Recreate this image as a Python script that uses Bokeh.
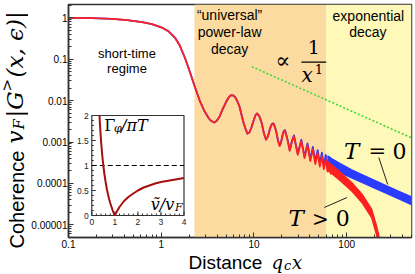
import math
from bokeh.plotting import figure
from bokeh.models import (Range1d, LinearScale, FixedTicker, CustomJSTickFormatter,
                          BoxAnnotation, Label)
from bokeh.layouts import row, column
from bokeh.core.properties import value
from bokeh.embed import file_html
from bokeh.resources import INLINE

# ---------------- data ----------------
# early, shared part of the coherence curve (both temperatures coincide)
x_early = [0.1, 0.181, 0.296, 0.429, 0.621, 0.795, 1.017, 1.209, 1.403, 1.586,
           1.795, 2.03, 2.297, 2.60, 2.94, 3.245, 3.41, 3.72, 3.95, 4.26,
           4.58, 4.94, 5.25, 5.45, 5.72, 6.02, 6.32, 6.64, 6.98, 7.24,
           7.51, 7.79, 8.09, 8.5, 8.93, 9.38, 9.85, 10.35, 10.8]
g_early = [1.0, 0.983, 0.946, 0.885, 0.792, 0.708, 0.583, 0.467, 0.334, 0.214,
           0.110, 0.0505, 0.0219, 0.01005, 0.00545, 0.0038, 0.0033, 0.00296, 0.00321, 0.00413,
           0.0061, 0.00875, 0.01125, 0.01256, 0.01365, 0.01327, 0.0119, 0.0095, 0.0072, 0.00516,
           0.0037, 0.00272, 0.00212, 0.0016, 0.0017, 0.00224, 0.00313, 0.00437, 0.00491]

# resolved oscillations
x_osc = [11.45, 12.15, 12.8, 13.5, 14.2, 14.85, 15.5, 16.2, 16.9, 17.55,
         18.2, 18.9, 19.6, 20.25, 20.9, 21.6, 22.95, 24.3, 25.65, 27.0,
         29.7, 32.4, 35.1, 37.8, 40.5, 43.2, 45.9, 48.6, 51.3, 54.0,
         56.7, 59.4, 62.1, 64.8, 67.5, 70.2]
g_osc_T0 = [4.16e-3, 2.82e-3, 1.64e-3, 1.148e-3, 1.41e-3, 2.07e-3, 2.68e-3, 2.84e-3, 2.26e-3, 1.64e-3,
            1.065e-3, 8.20e-4, 9.9e-4, 1.42e-3, 1.82e-3, 1.944e-3, 1.187e-3, 6.38e-4, 1.062e-3, 1.444e-3,
            5.22e-4, 1.142e-3, 4.42e-4, 9.26e-4, 3.83e-4, 7.64e-4, 3.38e-4, 6.38e-4, 3.02e-4, 5.56e-4,
            2.73e-4, 4.88e-4, 2.50e-4, 4.32e-4, 2.30e-4, 3.85e-4]
g_osc_Tpos = [4.12e-3, 2.79e-3, 1.62e-3, 1.131e-3, 1.39e-3, 2.03e-3, 2.63e-3, 2.78e-3, 2.21e-3, 1.60e-3,
              1.04e-3, 8.0e-4, 9.65e-4, 1.377e-3, 1.765e-3, 1.886e-3, 1.145e-3, 6.12e-4, 1.014e-3, 1.379e-3,
              4.93e-4, 1.068e-3, 4.09e-4, 8.43e-4, 3.45e-4, 6.76e-4, 2.94e-4, 5.45e-4, 2.54e-4, 4.56e-4,
              2.21e-4, 3.86e-4, 1.94e-4, 3.28e-4, 1.71e-4, 2.81e-4]

# unresolved (dense) oscillations: envelopes
x_band_T0 = [62, 70, 85, 113, 150, 200, 258, 350, 500]
g_band_T0_hi = [4.6e-4, 3.86e-4, 3.0e-4, 2.12e-4, 1.57e-4, 1.175e-4, 9.1e-5, 6.7e-5, 4.7e-5]
g_band_T0_lo = [2.5e-4, 2.21e-4, 1.82e-4, 1.37e-4, 1.03e-4, 7.75e-5, 6.0e-5, 4.43e-5, 3.1e-5]
x_band_Tpos = [62, 70, 88, 113, 146, 186, 210, 240]
g_band_Tpos_hi = [3.31e-4, 2.68e-4, 1.74e-4, 1.05e-4, 5.5e-5, 2.36e-5, 9.2e-6, 2.5e-6]
g_band_Tpos_lo = [2.09e-4, 1.69e-4, 1.10e-4, 6.6e-5, 3.47e-5, 1.49e-5, 5.8e-6, 1.6e-6]

# 1/x guide
x_guide = [9.5, 500]
g_guide = [0.066, 0.00126]

# regime boundaries
regime_edges = [2.28, 60.0]

# axis ticks
x_ticks = [0.1, 1, 10, 100]
x_tick_labels = ["0.1", "1", "10", "100"]
y_ticks = [1e-5, 1e-4, 1e-3, 1e-2, 1e-1, 1]
y_tick_labels = ["0.00001", "0.0001", "0.001", "0.01", "0.1", "1"]

# inset: dephasing rate vs velocity ratio
v_ratio = [0.333, 0.36, 0.4, 0.45, 0.5, 0.55, 0.6, 0.65, 0.7, 0.75, 0.8, 0.85, 0.9, 0.95, 1.0,
           1.05, 1.1, 1.2, 1.3, 1.4, 1.6, 1.8, 2.0, 2.25, 2.5, 2.75, 3.0, 3.5, 4.0]
gamma_ratio = [2.0, 1.78, 1.5, 1.22, 1.0, 0.82, 0.67, 0.54, 0.43, 0.33, 0.25, 0.18, 0.11, 0.05, 0.0,
               0.05, 0.09, 0.17, 0.23, 0.29, 0.375, 0.44, 0.5, 0.56, 0.6, 0.64, 0.67, 0.71, 0.75]
inset_x_ticks = [0, 1, 2, 3, 4]
inset_x_labels = ["0", "1", "2", "3", "4"]
inset_y_ticks = [0, 0.5, 1, 1.5, 2]
inset_y_labels = ["0", "0.5", "1", "1.5", "2"]
inset_xlim = [0, 4]
inset_ylim = [0, 2]
inset_ref_level = 1.0

# ---------------- layout constants (page pixels) ----------------
PW, PH = 415, 274                 # whole page
YT_W = 28                         # strip for the y-axis title
XT_H = 23                         # strip for the x-axis title
W, H = PW - YT_W, PH - XT_H       # main figure
ML, MR, MT, MB = 37, 4, 4, 14
X0, X1 = 0.1, 500.0
Y0, Y1 = 4.93e-6, 2.1
FL = YT_W + ML                    # frame left on the page
FT = MT                           # frame top on the page
FW = W - ML - MR
FH = H - MT - MB
DX = FW / math.log10(X1 / X0)
DY = FH / math.log10(Y1 / Y0)


def ax(px):
    return 10 ** (math.log10(X0) + (px - FL) / DX)


def ay(py):
    return 10 ** (math.log10(Y1) - (py - FT) / DY)


def no_align(fig):
    try:
        fig.frame_align = False
    except Exception:
        pass


def base_shift(size):
    # labels are drawn a little below their anchor; compensate (px, along the text's "down")
    return 0.15 * float(size.replace("px", "")) + 4.0


RED = "#FF2020"
BLUE = "#2A3CFF"
ORANGE = "#FCDBA0"
YELLOW = "#FEF9B8"
FRAME = "#333333"
SANS = "Liberation Sans"
SERIF = "DejaVu Serif"

p = figure(width=W, height=H, x_axis_type="log", y_axis_type="log",
           x_range=Range1d(X0, X1), y_range=Range1d(Y0, Y1),
           output_backend="svg", toolbar_location=None,
           min_border_left=ML, min_border_right=MR, min_border_top=MT, min_border_bottom=MB)
no_align(p)
p.grid.visible = False
p.background_fill_color = "white"
p.border_fill_color = "white"
p.outline_line_color = FRAME
p.outline_line_width = 1.5

# regimes
p.add_layout(BoxAnnotation(left=regime_edges[0], right=regime_edges[1], fill_color=ORANGE,
                           fill_alpha=1.0, line_color=None, level="underlay"))
p.add_layout(BoxAnnotation(left=regime_edges[1], fill_color=YELLOW,
                           fill_alpha=1.0, line_color=None, level="underlay"))

# axes
fmt_code = """
const lt = Math.log10(tick);
for (let i = 0; i < tvals.length; i++) {
  if (Math.abs(Math.log10(tvals[i]) - lt) < 1e-6) return tlabels[i];
}
return "";
"""
x_minor = [m * 10.0 ** e for e in range(-1, 3) for m in range(2, 10)]
y_minor = [m * 10.0 ** e for e in range(-6, 1) for m in range(2, 10)]
p.xaxis.ticker = FixedTicker(ticks=x_ticks, minor_ticks=x_minor)
p.yaxis.ticker = FixedTicker(ticks=y_ticks, minor_ticks=y_minor)
p.xaxis.formatter = CustomJSTickFormatter(args=dict(tvals=x_ticks, tlabels=x_tick_labels), code=fmt_code)
p.yaxis.formatter = CustomJSTickFormatter(args=dict(tvals=y_ticks, tlabels=y_tick_labels), code=fmt_code)
for a in (p.xaxis[0], p.yaxis[0]):
    a.major_tick_in = 5
    a.major_tick_out = 0
    a.minor_tick_in = 3
    a.minor_tick_out = 0
    a.axis_line_color = FRAME
    a.axis_line_width = 1.5
    a.major_tick_line_color = FRAME
    a.minor_tick_line_color = FRAME
    a.major_label_text_font = SANS
    a.major_label_text_font_size = "10px"
    a.major_label_text_color = "black"
p.xaxis.major_label_standoff = 2
p.yaxis.major_label_standoff = 1

# guide line
p.line(x_guide, g_guide, line_color="#3CD83C", line_width=1.6, line_dash="2 2")

# T = 0 (blue) first, T > 0 (red) on top
p.line(x_early + x_osc, g_early + g_osc_T0, line_color=BLUE, line_width=1.8, line_join="round")
p.varea(x=x_band_T0, y1=g_band_T0_lo, y2=g_band_T0_hi, fill_color=BLUE)
p.line(x_band_T0, g_band_T0_hi, line_color=BLUE, line_width=1.5)
p.line(x_band_T0, g_band_T0_lo, line_color=BLUE, line_width=1.5)

p.line(x_early + x_osc, g_early + g_osc_Tpos, line_color=RED, line_width=1.8, line_join="round")
p.varea(x=x_band_Tpos, y1=g_band_Tpos_lo, y2=g_band_Tpos_hi, fill_color=RED)
p.line(x_band_Tpos, g_band_Tpos_hi, line_color=RED, line_width=1.5)
p.line(x_band_Tpos, g_band_Tpos_lo, line_color=RED, line_width=1.5)

# ---------------- inset (own linear scales) ----------------
IL, IR, IT, IB = 88.5, 181.5, 115.0, 215.0   # inset box on the page
ux = (IR - IL) / (inset_xlim[1] - inset_xlim[0])
uy = (IB - IT) / (inset_ylim[1] - inset_ylim[0])
ix0 = inset_xlim[0] - (IL - FL) / ux
iy0 = inset_ylim[0] - ((FT + FH) - IB) / uy
p.extra_x_ranges = {"ix": Range1d(ix0, ix0 + FW / ux)}
p.extra_y_ranges = {"iy": Range1d(iy0, iy0 + FH / uy)}
p.extra_x_scales = {"ix": LinearScale()}
p.extra_y_scales = {"iy": LinearScale()}
kw = dict(x_range_name="ix", y_range_name="iy")

p.quad(left=[inset_xlim[0]], right=[inset_xlim[1]], bottom=[inset_ylim[0]], top=[inset_ylim[1]],
       fill_color="white", line_color=FRAME, line_width=1.2, **kw)
ix_minor = [i * 0.2 for i in range(1, 20)]
iy_minor = [i * 0.1 for i in range(1, 20)]
p.ray(x=inset_x_ticks, y=[inset_ylim[0]] * len(inset_x_ticks), length=4, length_units="screen",
      angle=math.pi / 2, line_color=FRAME, line_width=1, **kw)
p.ray(x=ix_minor, y=[inset_ylim[0]] * len(ix_minor), length=2, length_units="screen",
      angle=math.pi / 2, line_color=FRAME, line_width=1, **kw)
p.ray(x=[inset_xlim[0]] * len(inset_y_ticks), y=inset_y_ticks, length=4, length_units="screen",
      angle=0, line_color=FRAME, line_width=1, **kw)
p.ray(x=[inset_xlim[0]] * len(iy_minor), y=iy_minor, length=2, length_units="screen",
      angle=0, line_color=FRAME, line_width=1, **kw)
p.text(x=inset_x_ticks, y=[inset_ylim[0]] * len(inset_x_ticks), text=inset_x_labels,
       y_offset=3, text_align="center", text_baseline="top", text_font=value(SANS),
       text_font_size="8.5px", text_color="#222222", **kw)
p.text(x=[inset_xlim[0]] * len(inset_y_ticks), y=inset_y_ticks, text=inset_y_labels,
       x_offset=-3, text_align="right", text_baseline="middle", text_font=value(SANS),
       text_font_size="8.5px", text_color="#222222", **kw)
p.line(inset_xlim, [inset_ref_level, inset_ref_level], line_color="black", line_width=1,
       line_dash="5 3", **kw)
p.line(v_ratio, gamma_ratio, line_color="#A50F0F", line_width=2, **kw)


# ---------------- texts inside the frame ----------------
def lab(fig, x, y, text, size, font=SANS, style="normal", align="left", angle=0.0):
    fig.add_layout(Label(x=x, y=y, text=text, text_font=font, text_font_size=size,
                         text_font_style=style, text_align=align, text_baseline="alphabetic",
                         angle=angle, text_color="black"))


def mlab(px, py, text, size, **kwargs):
    lab(p, ax(px), ay(py - base_shift(size)), text, size, **kwargs)


mlab(124, 59.3, "short-time", "13px", align="center")
mlab(124, 74, "regime", "13px", align="center")
mlab(227.5, 21, "\u201cuniversal\u201d", "14px", align="center")
mlab(227.5, 38, "power-law", "14px", align="center")
mlab(227.5, 55, "decay", "14px", align="center")
mlab(367.5, 21.5, "exponential", "14px", align="center")
mlab(367, 38, "decay", "14px", align="center")

# proportional-to guide label
mlab(281.3, 67, "\u221d", "22px", font=SERIF, align="center")
mlab(312.5, 53, "1", "19px", font=SERIF, align="center")
mlab(300, 81.5, "x", "20px", font=SERIF, style="italic")
mlab(313.5, 74, "1", "13px", font=SERIF)
p.segment(x0=[ax(300)], y0=[ay(61.7)], x1=[ax(325)], y1=[ay(61.7)], line_color="black", line_width=1.2)

# T labels
mlab(343, 158, "T", "23px", font=SERIF, style="italic")
mlab(376.5, 158, "=", "21px", font=SERIF, align="center")
mlab(399, 158, "0", "22px", font=SERIF, align="center")
p.segment(x0=[ax(378)], y0=[ay(157)], x1=[ax(387)], y1=[ay(184)], line_color="#222222", line_width=1)
mlab(287, 225, "T", "23px", font=SERIF, style="italic")
mlab(319.2, 225, ">", "20px", font=SERIF, align="center")
mlab(341.7, 225, "0", "22px", font=SERIF, align="center")
p.segment(x0=[ax(323)], y0=[ay(207)], x1=[ax(346)], y1=[ay(197)], line_color="#222222", line_width=1)

# inset labels
mlab(101, 131, "\u0393", "16px", font=SERIF)
mlab(111, 134, "\u03c6", "11px", font=SERIF, style="italic")
mlab(118, 131, "/\u03c0T", "16px", font=SERIF, style="italic")
mlab(148, 210, "\u1e7d/v", "16px", font=SERIF, style="italic")
mlab(172.5, 213, "F", "11px", font=SERIF, style="italic")


# ---------------- axis-title strips (plain figures whose frame is the whole strip) ----------------
def strip(width, height, x_page0, y_page0):
    f = figure(width=width, height=height, output_backend="svg", toolbar_location=None,
               title=None,
               x_range=Range1d(x_page0, x_page0 + width),
               y_range=Range1d(PH - (y_page0 + height), PH - y_page0),
               x_axis_location=None, y_axis_location=None,
               min_border=0, min_border_left=0, min_border_right=0,
               min_border_top=0, min_border_bottom=0)
    no_align(f)
    f.grid.visible = False
    f.outline_line_color = None
    f.background_fill_color = "white"
    f.border_fill_color = "white"
    return f


yt = strip(YT_W, PH, 0, 0)
xt = strip(W, XT_H, YT_W, H)


def tlab(fig, px, py, text, size, angle=0.0, **kwargs):
    s = base_shift(size)
    if angle:
        lab(fig, px - s, PH - py, text, size, angle=angle, **kwargs)
    else:
        lab(fig, px, PH - (py - s), text, size, angle=angle, **kwargs)


R = math.pi / 2
tlab(yt, 23.5, 248, "Coherence", "20px", angle=R)
tlab(yt, 22, 143, "v", "23px", font=SERIF, style="italic", angle=R)
tlab(yt, 24.5, 129, "F", "15px", font=SERIF, style="italic", angle=R)
tlab(yt, 22, 117, "|G", "23px", font=SERIF, style="italic", angle=R)
tlab(yt, 13, 91, ">", "15px", font=SERIF, angle=R)
tlab(yt, 22, 77, "(x, \u03f5)|", "23px", font=SERIF, style="italic", angle=R)

tlab(xt, 188, 268.5, "Distance", "19px")
tlab(xt, 271, 268.5, "q", "18px", font=SERIF, style="italic")
tlab(xt, 283.5, 270.5, "c", "13px", font=SERIF, style="italic")
tlab(xt, 291.5, 268.5, "x", "18px", font=SERIF, style="italic")

root = row(yt, column(p, xt, spacing=0), spacing=0)
open("out.html", "w").write(file_html(root, INLINE))
